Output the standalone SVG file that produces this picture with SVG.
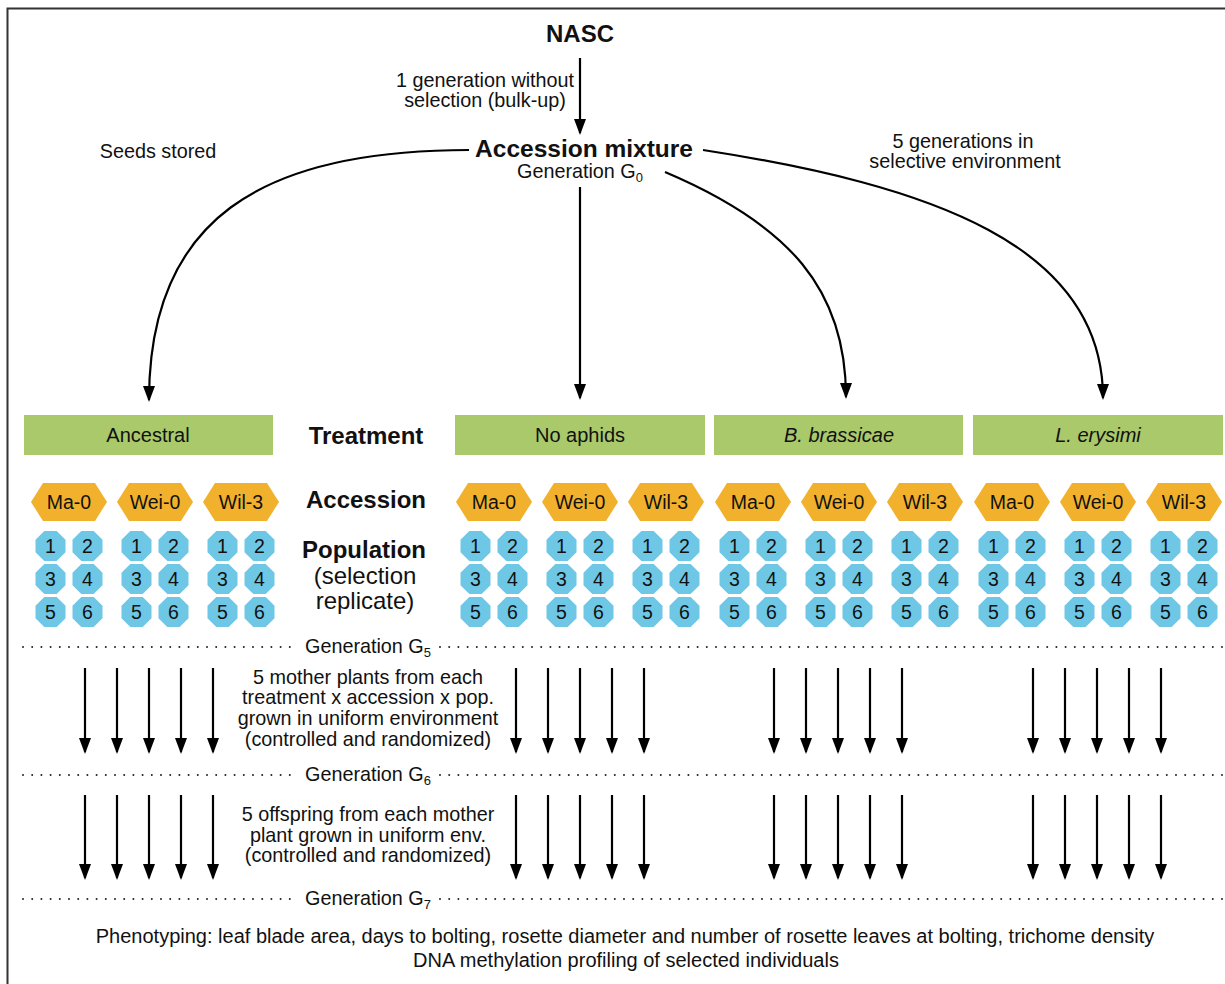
<svg xmlns="http://www.w3.org/2000/svg" width="1225" height="984" viewBox="0 0 1225 984">
<defs>
<style>
text{font-family:"Liberation Sans",Arial,sans-serif;fill:#111;}
.t{font-size:19.8px;text-anchor:middle;}
.b{font-size:24px;font-weight:bold;text-anchor:middle;}
.l{font-size:24px;text-anchor:middle;}
.box{fill:#a9c96b;}
.hex{fill:#f2b12c;}
.oct{fill:#6fc7e6;}
.n{font-size:19.5px;text-anchor:middle;}
.bl{font-size:20px;text-anchor:middle;}
.ln{stroke:#000;stroke-width:2.2;fill:none;marker-end:url(#ah);}
.dot{stroke:#222;stroke-width:2;stroke-linecap:round;stroke-dasharray:0 9.2;fill:none;}
</style>
<marker id="ah" viewBox="0 0 16 12" refX="14" refY="6" markerUnits="userSpaceOnUse" markerWidth="16" markerHeight="12" orient="auto">
<path d="M0,0 L16,6 L0,12 z" fill="#000"/>
</marker>
<polygon id="hx" points="-38,0 -26,-19 26,-19 38,0 26,19 -26,19"/>
<polygon id="oc" points="6.2,-15 15,-6.2 15,6.2 6.2,15 -6.2,15 -15,6.2 -15,-6.2 -6.2,-15"/>
<g id="pops">
<use href="#oc" x="-18.5" y="0" class="oct"/><use href="#oc" x="18.5" y="0" class="oct"/>
<use href="#oc" x="-18.5" y="33" class="oct"/><use href="#oc" x="18.5" y="33" class="oct"/>
<use href="#oc" x="-18.5" y="66" class="oct"/><use href="#oc" x="18.5" y="66" class="oct"/>
<text class="n" x="-18.5" y="7">1</text><text class="n" x="18.5" y="7">2</text>
<text class="n" x="-18.5" y="40">3</text><text class="n" x="18.5" y="40">4</text>
<text class="n" x="-18.5" y="73">5</text><text class="n" x="18.5" y="73">6</text>
</g>
<g id="acc">
<use href="#hx" x="-86" y="0" class="hex"/><use href="#hx" x="0" y="0" class="hex"/><use href="#hx" x="86" y="0" class="hex"/>
<text class="n" x="-86" y="7">Ma-0</text><text class="n" x="0" y="7">Wei-0</text><text class="n" x="86" y="7">Wil-3</text>
<use href="#pops" x="-86" y="44"/><use href="#pops" x="0" y="44"/><use href="#pops" x="86" y="44"/>
</g>
<g id="arr1">
<path class="ln" d="M-64,668 V752"/><path class="ln" d="M-32,668 V752"/><path class="ln" d="M0,668 V752"/><path class="ln" d="M32,668 V752"/><path class="ln" d="M64,668 V752"/>
</g>
<g id="arr2">
<path class="ln" d="M-64,795 V878"/><path class="ln" d="M-32,795 V878"/><path class="ln" d="M0,795 V878"/><path class="ln" d="M32,795 V878"/><path class="ln" d="M64,795 V878"/>
</g>
</defs>
<rect width="1225" height="984" fill="#fff"/>
<path d="M7.5,984 V8.5 H1225" stroke="#333" stroke-width="2" fill="none"/>

<g id="nasc"><text class="b" x="580" y="42">NASC</text></g>
<g id="mixture">
<text class="b" x="584" y="157" style="font-size:24.5px">Accession mixture</text>
<text class="t" x="580" y="178">Generation G<tspan font-size="13" dy="4">0</tspan></text>
</g>
<g id="labels">
<text class="t" x="485" y="87">1 generation without</text>
<text class="t" x="485" y="107">selection (bulk-up)</text>
<text class="t" x="158" y="158">Seeds stored</text>
<text class="t" x="963" y="148">5 generations in</text>
<text class="t" x="965" y="168">selective environment</text>
</g>

<g id="connectors">
<path class="ln" d="M469,150 C260,150 149,220 149,400"/>
<path class="ln" d="M580,58 V133"/>
<path class="ln" d="M580,187 V398"/>
<path class="ln" d="M665,172 C790,225 846,290 846,397"/>
<path class="ln" d="M703,150 C930,185 1103,245 1103,398"/>
<use href="#arr1" x="149"/><use href="#arr1" x="580"/><use href="#arr1" x="838"/><use href="#arr1" x="1097"/>
<use href="#arr2" x="149"/><use href="#arr2" x="580"/><use href="#arr2" x="838"/><use href="#arr2" x="1097"/>
</g>

<g id="treatment-label"><text class="b" x="366" y="444">Treatment</text></g>
<g id="accession-label"><text class="b" x="366" y="508">Accession</text></g>
<g id="population-label">
<text class="b" x="364" y="558">Population</text>
<text class="l" x="365" y="584">(selection</text>
<text class="l" x="365" y="609">replicate)</text>
</g>

<g id="ancestral">
<rect class="box" x="24" y="415" width="249" height="40"/>
<text class="bl" x="148" y="442">Ancestral</text>
<use href="#acc" x="155" y="502"/>
</g>
<g id="noaphids">
<rect class="box" x="455" y="415" width="250" height="40"/>
<text class="bl" x="580" y="442">No aphids</text>
<use href="#acc" x="580" y="502"/>
</g>
<g id="bbrassicae">
<rect class="box" x="714" y="415" width="249" height="40"/>
<text class="bl" x="839" y="442" font-style="italic">B. brassicae</text>
<use href="#acc" x="839" y="502"/>
</g>
<g id="lerysimi">
<rect class="box" x="973" y="415" width="250" height="40"/>
<text class="bl" x="1098" y="442" font-style="italic">L. erysimi</text>
<use href="#acc" x="1098" y="502"/>
</g>

<g id="gen5">
<path class="dot" d="M23,647 H296 M440,647 H1222"/>
<text class="t" x="368" y="653">Generation G<tspan font-size="13" dy="4">5</tspan></text>
</g>
<g id="mother-text">
<text class="t" x="368" y="684">5 mother plants from each</text>
<text class="t" x="368" y="704">treatment x accession x pop.</text>
<text class="t" x="368" y="725">grown in uniform environment</text>
<text class="t" x="368" y="746">(controlled and randomized)</text>
</g>
<g id="gen6">
<path class="dot" d="M23,775 H296 M440,775 H1222"/>
<text class="t" x="368" y="781">Generation G<tspan font-size="13" dy="4">6</tspan></text>
</g>
<g id="offspring-text">
<text class="t" x="368" y="821">5 offspring from each mother</text>
<text class="t" x="368" y="842">plant grown in uniform env.</text>
<text class="t" x="368" y="862">(controlled and randomized)</text>
</g>
<g id="gen7">
<path class="dot" d="M23,899 H296 M440,899 H1222"/>
<text class="t" x="368" y="905">Generation G<tspan font-size="13" dy="4">7</tspan></text>
</g>
<g id="phenotyping">
<text class="t" x="625" y="943" style="font-size:20px">Phenotyping: leaf blade area, days to bolting, rosette diameter and number of rosette leaves at bolting, trichome density</text>
<text class="t" x="626" y="967" style="font-size:20px">DNA methylation profiling of selected individuals</text>
</g>
</svg>
